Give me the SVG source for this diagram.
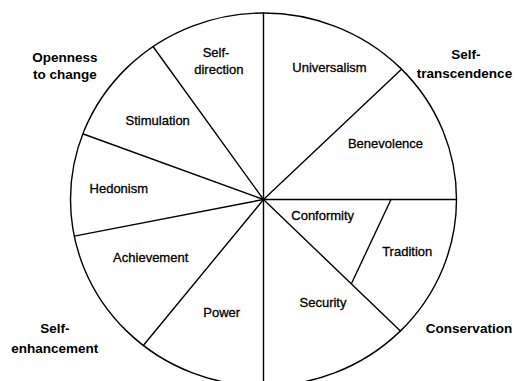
<svg xmlns="http://www.w3.org/2000/svg" width="517" height="381" viewBox="0 0 517 381">
<style>
.ln{stroke:#000;stroke-width:1.4;fill:none;stroke-linecap:round}
.v{font-family:"Liberation Sans",Arial,sans-serif;font-size:13px;fill:#000;stroke:#000;stroke-width:0.3;text-anchor:middle}
.h{font-family:"Liberation Sans",Arial,sans-serif;font-size:13.5px;font-weight:bold;fill:#000;text-anchor:middle}
</style>
<rect width="517" height="381" fill="#fff"/>
<g id="connectors">
<ellipse class="ln" cx="263.5" cy="199.5" rx="193" ry="186.5"/>
<line class="ln" x1="263.5" y1="199.5" x2="263.5" y2="13"/>
<line class="ln" x1="263.5" y1="199.5" x2="263.5" y2="386"/>
<line class="ln" x1="263.5" y1="199.5" x2="456.5" y2="199.5"/>
<line class="ln" x1="263.5" y1="199.5" x2="400.7" y2="70"/>
<line class="ln" x1="263.5" y1="199.5" x2="153" y2="46.5"/>
<line class="ln" x1="263.5" y1="199.5" x2="83.3" y2="134"/>
<line class="ln" x1="263.5" y1="199.5" x2="74.3" y2="236.1"/>
<line class="ln" x1="263.5" y1="199.5" x2="143.3" y2="345.5"/>
<line class="ln" x1="263.5" y1="199.5" x2="400.4" y2="331"/>
<line class="ln" x1="391" y1="199.5" x2="351.5" y2="283.5"/>
</g>
<g id="self-direction"><text class="v" x="216" y="56.5">Self-</text><text class="v" x="218.8" y="74">direction</text></g>
<g id="universalism"><text class="v" x="329.5" y="71.5">Universalism</text></g>
<g id="stimulation"><text class="v" x="157.7" y="125">Stimulation</text></g>
<g id="benevolence"><text class="v" x="385.5" y="148.3">Benevolence</text></g>
<g id="hedonism"><text class="v" x="118.8" y="192.5">Hedonism</text></g>
<g id="conformity"><text class="v" x="322.7" y="220">Conformity</text></g>
<g id="tradition"><text class="v" x="407.2" y="255.7">Tradition</text></g>
<g id="achievement"><text class="v" x="150.7" y="261.7">Achievement</text></g>
<g id="security"><text class="v" x="323" y="306.7">Security</text></g>
<g id="power"><text class="v" x="221.7" y="317.3">Power</text></g>
<g id="openness"><text class="h" x="65" y="61.5">Openness</text><text class="h" x="65" y="79">to change</text></g>
<g id="self-transcendence"><text class="h" x="466" y="58.7">Self-</text><text class="h" x="464.5" y="77.7">transcendence</text></g>
<g id="self-enhancement"><text class="h" x="55" y="332.7">Self-</text><text class="h" x="54.7" y="353.3">enhancement</text></g>
<g id="conservation"><text class="h" x="469" y="333.3">Conservation</text></g>
</svg>
